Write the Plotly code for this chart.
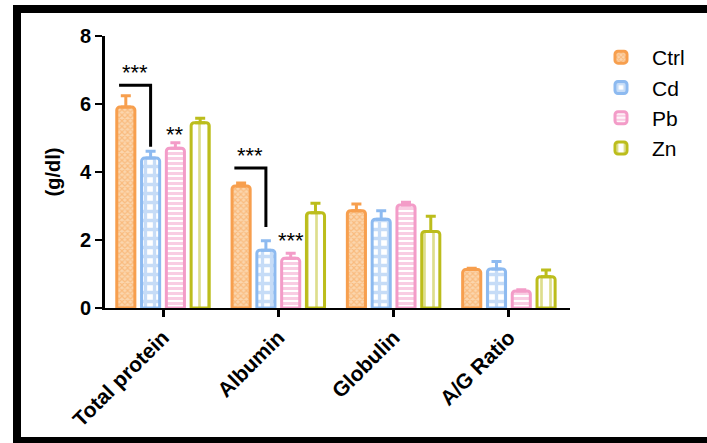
import plotly.graph_objects as go

# ---------------- data ----------------
categories = ["Total protein", "Albumin", "Globulin", "A/G Ratio"]
groups = ["Ctrl", "Cd", "Pb", "Zn"]
ctrl_mean = [5.91, 3.59, 2.86, 1.13]
ctrl_err = [0.33, 0.09, 0.20, 0.04]
cd_mean = [4.41, 1.70, 2.61, 1.15]
cd_err = [0.20, 0.28, 0.25, 0.22]
pb_mean = [4.70, 1.46, 3.03, 0.50]
pb_err = [0.16, 0.15, 0.08, 0.04]
zn_mean = [5.45, 2.80, 2.25, 0.92]
zn_err = [0.13, 0.28, 0.45, 0.20]

# significance marks
sig_bracket_cat = [0, 1]          # brackets Ctrl -> Cd
sig_bracket_top = [6.55, 4.12]
sig_bracket_bottom = [4.74, 2.38]
sig_bracket_text = ["***", "***"]
sig_single_cat = [0, 1]
sig_single_bar = [2, 2]           # Pb bars
sig_single_text = ["**", "***"]
sig_single_y = [5.1, 2.0]

y_ticks = [0, 2, 4, 6, 8]

# ---------------- style ----------------
colors = ["#F79F4E", "#8DBAF0", "#F39CC8", "#BCBD1C"]
patterns = [
    dict(shape="x", fgcolor="#F79F4E", bgcolor="#FBD6AE", size=4, solidity=0.5),
    dict(shape="+", fgcolor="#8DBAF0", bgcolor="white", size=9, solidity=0.6),
    dict(shape="-", fgcolor="#F39CC8", bgcolor="white", size=5, solidity=0.6),
    dict(shape="|", fgcolor="#BCBD1C", bgcolor="white", size=9, solidity=0.3),
]
means = [ctrl_mean, cd_mean, pb_mean, zn_mean]
errs = [ctrl_err, cd_err, pb_err, zn_err]

BARGAP = 0.14
BARGROUPGAP = 0.27
FONT = "Liberation Sans, Arial, sans-serif"

fig = go.Figure()
for i, g in enumerate(groups):
    fig.add_trace(go.Bar(
        name=g, x=categories, y=means[i],
        marker=dict(color=colors[i], pattern=patterns[i],
                    line=dict(color=colors[i], width=3), cornerradius=3),
        error_y=dict(type="data", array=errs[i], arrayminus=[0] * len(errs[i]),
                     symmetric=False, color=colors[i], thickness=3, width=5),
    ))

# plot area in pixels
W, H = 707, 443
L, R, T, B = 105, 570, 36, 308


def px_x(px):
    return (px - L) / (R - L)


def px_y(py):
    return (B - py) / (B - T)


slot = (1 - BARGAP) / 4
barw = slot * (1 - BARGROUPGAP)


def bar_center(cat, k):
    return cat + (k - 1.5) * slot


shapes = []
annotations = []
for c, top, bot, txt in zip(sig_bracket_cat, sig_bracket_top, sig_bracket_bottom, sig_bracket_text):
    x0 = bar_center(c, 0) - barw / 2 + 0.02
    x1 = bar_center(c, 1)
    shapes.append(dict(type="path", xref="x", yref="y",
                       path=f"M {x0} {top} L {x1} {top} L {x1} {bot}",
                       line=dict(color="black", width=3)))
    annotations.append(dict(x=(x0 + x1) / 2, y=top, xref="x", yref="y", text=txt,
                            showarrow=False, yanchor="bottom", yshift=-2,
                            font=dict(size=22, color="black", family=FONT)))
for c, k, txt, y in zip(sig_single_cat, sig_single_bar, sig_single_text, sig_single_y):
    annotations.append(dict(x=bar_center(c, k), y=y, xref="x", yref="y", text=txt,
                            showarrow=False, yanchor="middle",
                            font=dict(size=22, color="black", family=FONT)))

# outer black frame (left, top, bottom)
shapes += [
    dict(type="rect", xref="paper", yref="paper", x0=px_x(13), x1=px_x(21),
         y0=px_y(443), y1=px_y(5), fillcolor="black", line=dict(width=0), layer="above"),
    dict(type="rect", xref="paper", yref="paper", x0=px_x(13), x1=px_x(707),
         y0=px_y(13), y1=px_y(5), fillcolor="black", line=dict(width=0), layer="above"),
    dict(type="rect", xref="paper", yref="paper", x0=px_x(13), x1=px_x(707),
         y0=px_y(443), y1=px_y(437), fillcolor="black", line=dict(width=0), layer="above"),
]

fig.update_layout(
    width=W, height=H,
    margin=dict(l=L, r=W - R, t=T, b=H - B, pad=0),
    paper_bgcolor="white", plot_bgcolor="white",
    barmode="group", bargap=BARGAP, bargroupgap=BARGROUPGAP,
    font=dict(family=FONT, color="black"),
    shapes=shapes, annotations=annotations,
    legend=dict(x=px_x(590), y=px_y(37), xanchor="left", yanchor="top",
                font=dict(size=21, family=FONT), itemwidth=52,
                bgcolor="rgba(0,0,0,0)"),
    showlegend=True,
)
fig.update_xaxes(
    range=[-0.503, 3.53], showline=True, linecolor="black", linewidth=2,
    ticks="outside", ticklen=7, tickwidth=3, tickcolor="black",
    tickangle=-45, tickfont=dict(size=21, family=FONT, weight="bold"),
    showgrid=False, zeroline=False,
)
fig.update_yaxes(
    range=[0, 8], tickvals=y_ticks, showline=True, linecolor="black", linewidth=3,
    ticks="outside", ticklen=7, tickwidth=2, tickcolor="black",
    tickfont=dict(size=20, family=FONT, weight="bold"),
    title=dict(text="(g/dl)", font=dict(size=20, family=FONT, weight="bold"), standoff=14),
    showgrid=False, zeroline=False,
)

fig.write_html("out.html", config={"displayModeBar": False},
               post_script="document.body.style.margin='0';document.body.style.overflow='hidden';"
                           "document.documentElement.style.overflow='hidden';")
